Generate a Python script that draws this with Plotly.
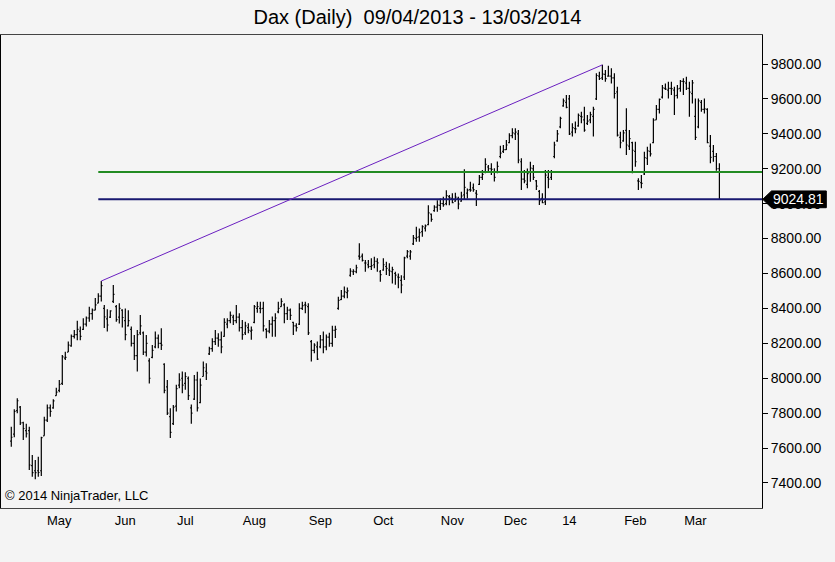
import pandas as pd
import plotly.graph_objects as go

TITLE = "Dax (Daily)\u00a0 09/04/2013 - 13/03/2014"
START, END = "2013-04-09", "2014-03-13"
HOLIDAYS = ["2013-05-01", "2013-12-24", "2013-12-25", "2013-12-26", "2013-12-31", "2014-01-01"]
MONTH_LABELS = ["May", "Jun", "Jul", "Aug", "Sep", "Oct", "Nov", "Dec", "14", "Feb", "Mar"]
Y_TICKS = [7400, 7600, 7800, 8000, 8200, 8400, 8600, 8800, 9000, 9200, 9400, 9600, 9800]
LAST_PRICE = 9024.81
LEVEL_GREEN = 9181
LEVEL_NAVY = 9024.81
LEVEL_START = "2013-05-21"
TREND_START = ("2013-05-22", 8557)
TREND_END = ("2014-01-17", 9795)
COPYRIGHT = "© 2014 NinjaTrader, LLC"

opens = [
    7640, 7680, 7815, 7835, 7745, 7700, 7700, 7500, 7470, 7470,
    7470, 7670, 7760, 7830, 7830, 7900, 7930, 7970, 8115, 8150,
    8185, 8240, 8250, 8270, 8280, 8310, 8345, 8370, 8390, 8430,
    8470, 8400, 8340, 8350, 8440, 8410, 8350, 8390, 8330, 8300,
    8280, 8200, 8130, 8260, 8260, 8150, 8100, 8120, 8180, 8230,
    8200, 8080, 7950, 7780, 7740, 7840, 7960, 8000, 7970, 8000,
    7830, 7880, 7990, 7860, 8010, 8040, 8140, 8170, 8210, 8230,
    8220, 8240, 8310, 8330, 8350, 8330, 8350, 8290, 8260, 8290,
    8270, 8320, 8400, 8400, 8400, 8280, 8270, 8310, 8330, 8380,
    8410, 8420, 8370, 8390, 8320, 8300, 8310, 8400, 8420, 8410,
    8210, 8160, 8180, 8180, 8220, 8180, 8235, 8200, 8275, 8400,
    8450, 8470, 8490, 8590, 8610, 8610, 8700, 8700, 8660, 8650,
    8640, 8650, 8670, 8610, 8620, 8640, 8620, 8610, 8600, 8580,
    8560, 8580, 8700, 8700, 8770, 8800, 8810, 8840, 8860, 8880,
    8940, 8960, 8980, 8990, 9000, 9000, 9040, 9030, 9015, 9030,
    9015, 9050, 9060, 9080, 9090, 9060, 9110, 9150, 9180, 9210,
    9200, 9180, 9180, 9270, 9300, 9310, 9350, 9390, 9400, 9400,
    9240, 9140, 9110, 9180, 9200, 9130, 9070, 9030, 9010, 9150,
    9150, 9270, 9360, 9440, 9560, 9580, 9600, 9410, 9430, 9445,
    9500, 9480, 9460, 9480, 9500, 9600, 9730, 9720, 9740, 9730,
    9730, 9720, 9640, 9380, 9360, 9420, 9330, 9350, 9300, 9130,
    9120, 9170, 9260, 9300, 9350, 9480, 9540, 9610, 9660, 9650,
    9660, 9650, 9620, 9660, 9700, 9690, 9660, 9630, 9500, 9440,
    9580, 9540, 9540, 9330, 9300, 9270, 9200,
]
highs = [
    7722, 7822, 7885, 7841, 7751, 7740, 7722, 7560, 7532, 7550,
    7665, 7780, 7850, 7850, 7880, 7945, 7990, 8133, 8152, 8210,
    8250, 8276, 8330, 8296, 8343, 8353, 8410, 8400, 8460, 8487,
    8557, 8420, 8395, 8390, 8534, 8420, 8430, 8395, 8400, 8390,
    8296, 8248, 8276, 8362, 8267, 8248, 8115, 8190, 8267, 8250,
    8286, 8086, 7990, 7828, 7847, 7962, 8029, 8038, 8035, 8010,
    7850, 8018, 8037, 7999, 8096, 8086, 8180, 8229, 8276, 8257,
    8267, 8343, 8343, 8382, 8363, 8420, 8372, 8334, 8324, 8315,
    8296, 8420, 8438, 8438, 8438, 8286, 8334, 8353, 8372, 8438,
    8458, 8430, 8410, 8400, 8324, 8315, 8429, 8438, 8438, 8429,
    8219, 8200, 8210, 8248, 8267, 8250, 8260, 8300, 8300, 8467,
    8505, 8525, 8520, 8630, 8625, 8650, 8773, 8715, 8677, 8677,
    8687, 8696, 8687, 8620, 8687, 8667, 8658, 8638, 8610, 8600,
    8590, 8696, 8735, 8735, 8820, 8868, 8858, 8877, 8880, 8991,
    8944, 8991, 9020, 9030, 9039, 9077, 9049, 9060, 9063, 9040,
    9068, 9197, 9087, 9125, 9116, 9078, 9164, 9193, 9260, 9222,
    9231, 9203, 9241, 9331, 9336, 9365, 9403, 9432, 9432, 9422,
    9260, 9193, 9202, 9240, 9222, 9135, 9078, 9060, 9193, 9193,
    9193, 9355, 9422, 9498, 9603, 9622, 9622, 9460, 9470, 9517,
    9527, 9555, 9508, 9527, 9555, 9747, 9756, 9795, 9765, 9790,
    9775, 9747, 9670, 9412, 9422, 9546, 9422, 9355, 9355, 9145,
    9164, 9298, 9326, 9345, 9489, 9565, 9603, 9680, 9689, 9698,
    9698, 9670, 9680, 9708, 9718, 9727, 9698, 9708, 9603, 9603,
    9594, 9603, 9546, 9393, 9336, 9290, 9231,
]
lows = [
    7608, 7662, 7800, 7732, 7646, 7660, 7474, 7436, 7421, 7436,
    7440, 7670, 7750, 7780, 7825, 7900, 7920, 7961, 8105, 8150,
    8180, 8228, 8218, 8218, 8276, 8296, 8324, 8335, 8390, 8430,
    8440, 8288, 8267, 8345, 8431, 8324, 8313, 8290, 8218, 8296,
    8182, 8104, 8038, 8248, 8133, 8124, 7970, 8115, 8172, 8172,
    8162, 7914, 7790, 7658, 7732, 7809, 7943, 7914, 7934, 7876,
    7740, 7876, 7810, 7857, 8010, 7990, 8133, 8152, 8190, 8181,
    8143, 8238, 8286, 8315, 8305, 8315, 8267, 8220, 8248, 8257,
    8220, 8315, 8375, 8372, 8267, 8229, 8257, 8238, 8238, 8372,
    8410, 8315, 8334, 8334, 8248, 8267, 8305, 8391, 8372, 8248,
    8096, 8143, 8105, 8172, 8143, 8160, 8180, 8180, 8230, 8392,
    8448, 8458, 8458, 8582, 8592, 8601, 8678, 8668, 8610, 8630,
    8620, 8630, 8610, 8553, 8615, 8591, 8585, 8543, 8535, 8515,
    8487, 8563, 8687, 8678, 8763, 8782, 8782, 8811, 8840, 8877,
    8897, 8954, 8954, 8964, 8982, 8991, 8991, 9003, 9011, 8968,
    9011, 9021, 9030, 9068, 9068, 8987, 9107, 9135, 9174, 9183,
    9164, 9127, 9174, 9260, 9290, 9307, 9346, 9375, 9365, 9231,
    9078, 9117, 9088, 9125, 9135, 9078, 8992, 9003, 8992, 9088,
    9135, 9260, 9355, 9432, 9555, 9546, 9393, 9384, 9403, 9441,
    9460, 9412, 9451, 9460, 9384, 9594, 9708, 9708, 9699, 9727,
    9689, 9603, 9384, 9317, 9355, 9279, 9307, 9174, 9212, 9078,
    9088, 9164, 9222, 9270, 9346, 9480, 9517, 9603, 9651, 9603,
    9622, 9508, 9603, 9641, 9622, 9651, 9498, 9574, 9365, 9432,
    9527, 9517, 9346, 9231, 9240, 9188, 9024.81,
]
closes = [
    7662, 7810, 7871, 7744, 7712, 7682, 7503, 7459, 7459, 7460,
    7660, 7760, 7830, 7810, 7870, 7920, 7965, 8122, 8120, 8190,
    8240, 8250, 8280, 8240, 8310, 8345, 8370, 8390, 8420, 8470,
    8530, 8351, 8305, 8386, 8480, 8336, 8400, 8348, 8250, 8330,
    8200, 8130, 8250, 8300, 8150, 8200, 8000, 8160, 8230, 8200,
    8190, 7930, 7800, 7690, 7835, 7940, 7990, 7960, 8010, 7900,
    7800, 7990, 7830, 7960, 8060, 8030, 8170, 8210, 8230, 8220,
    8180, 8320, 8330, 8360, 8330, 8350, 8290, 8250, 8300, 8275,
    8276, 8410, 8411, 8398, 8300, 8270, 8310, 8330, 8345, 8400,
    8440, 8370, 8390, 8360, 8300, 8290, 8400, 8416, 8418, 8260,
    8160, 8190, 8110, 8220, 8180, 8235, 8200, 8275, 8280, 8446,
    8470, 8495, 8500, 8613, 8612, 8633, 8694, 8675, 8660, 8640,
    8645, 8670, 8661, 8594, 8650, 8629, 8614, 8622, 8591, 8578,
    8534, 8690, 8725, 8724, 8804, 8807, 8834, 8869, 8873, 8947,
    8910, 8980, 8992, 9001, 8994, 9046, 9033, 9006, 9037, 8998,
    9044, 9093, 9078, 9077, 9080, 9054, 9150, 9168, 9225, 9200,
    9196, 9150, 9213, 9290, 9310, 9336, 9390, 9405, 9410, 9250,
    9140, 9130, 9172, 9203, 9150, 9100, 9017, 9006, 9164, 9140,
    9181, 9336, 9400, 9489, 9589, 9552, 9400, 9435, 9428, 9506,
    9497, 9421, 9473, 9510, 9540, 9734, 9717, 9742, 9716, 9730,
    9720, 9631, 9392, 9349, 9406, 9336, 9373, 9306, 9240, 9128,
    9116, 9264, 9302, 9285, 9478, 9540, 9597, 9663, 9656, 9660,
    9659, 9618, 9657, 9700, 9699, 9661, 9639, 9692, 9380, 9589,
    9540, 9543, 9350, 9265, 9270, 9200, 9024.81,
]

dates = pd.bdate_range(START, END)
dates = dates[~dates.isin(pd.to_datetime(HOLIDAYS))]
n = len(dates)
assert n == len(opens) == len(highs) == len(lows) == len(closes), (n, len(opens), len(highs), len(lows), len(closes))
date_str = [d.strftime("%Y-%m-%d") for d in dates]
idx = list(range(n))

month_starts = []
prev = dates[0].month
for i, d in enumerate(dates):
    if d.month != prev:
        month_starts.append(i)
        prev = d.month

FONT = "Liberation Sans, Arial, sans-serif"
X_RANGE = [-3.43, 250.2]
Y_RANGE = [7256.7, 9966.1]

fig = go.Figure()
fig.add_trace(go.Ohlc(
    x=idx, open=opens, high=highs, low=lows, close=closes,
    increasing=dict(line=dict(color="black", width=1.2)),
    decreasing=dict(line=dict(color="black", width=1.2)),
    tickwidth=0.4, showlegend=False, hoverinfo="skip",
))

i_ls = date_str.index(LEVEL_START)
i_t0 = date_str.index(TREND_START[0])
i_t1 = date_str.index(TREND_END[0])

shapes = [
    dict(type="line", xref="x", yref="y", x0=i_ls, x1=X_RANGE[1], y0=LEVEL_GREEN, y1=LEVEL_GREEN,
         line=dict(color="#228B22", width=2)),
    dict(type="line", xref="x", yref="y", x0=i_ls, x1=X_RANGE[1], y0=LEVEL_NAVY, y1=LEVEL_NAVY,
         line=dict(color="#191970", width=2)),
    dict(type="line", xref="x", yref="y", x0=i_t0, y0=TREND_START[1], x1=i_t1, y1=TREND_END[1],
         line=dict(color="#6a1fc0", width=1)),
]
# price tag (arrow box) on the right axis
half = 48
shapes.append(dict(
    type="path", xref="paper", yref="y", layer="above",
    path=(f"M 1.001,{LAST_PRICE} L 1.0125,{LAST_PRICE + half} L 1.0845,{LAST_PRICE + half} "
          f"L 1.0845,{LAST_PRICE - half} L 1.0125,{LAST_PRICE - half} Z"),
    fillcolor="black", line=dict(color="black", width=1),
))

annotations = [
    dict(xref="paper", yref="y", x=1.0485, y=LAST_PRICE, text=f"{LAST_PRICE:.2f}", showarrow=False,
         font=dict(family=FONT, size=14, color="white"), xanchor="center", yanchor="middle"),
    dict(xref="paper", yref="paper", x=0, y=0, xanchor="left", yanchor="bottom", xshift=2, yshift=3,
         text=COPYRIGHT, showarrow=False, font=dict(family=FONT, size=13, color="black")),
]

fig.update_layout(
    width=835, height=562, autosize=False,
    margin=dict(l=1, r=73, t=35, b=54, pad=0),
    paper_bgcolor="#f4f4f4", plot_bgcolor="#f4f4f4",
    title=dict(text=TITLE, x=0.5, xanchor="center", y=1 - 17 / 562, yanchor="middle",
               font=dict(family=FONT, size=20, color="black")),
    font=dict(family=FONT, size=13, color="black"),
    shapes=shapes, annotations=annotations,
    showlegend=False,
    xaxis=dict(
        range=X_RANGE, rangeslider=dict(visible=False),
        tickmode="array", tickvals=month_starts, ticktext=MONTH_LABELS,
        showgrid=False, zeroline=False, showline=True, linecolor="#444", linewidth=1, mirror=True,
        ticks="", tickfont=dict(family=FONT, size=13, color="black"),
    ),
    yaxis=dict(
        range=Y_RANGE, side="right", tickmode="array", tickvals=Y_TICKS,
        ticktext=[f"{v:.2f}" for v in Y_TICKS],
        showgrid=False, zeroline=False, showline=True, linecolor="black", linewidth=1, mirror=True,
        ticks="outside", ticklen=5, tickcolor="black",
        tickfont=dict(family=FONT, size=14, color="black"),
    ),
)

fig.write_html("out.html", config={"displayModeBar": False},
               post_script="document.body.style.margin='0';")
